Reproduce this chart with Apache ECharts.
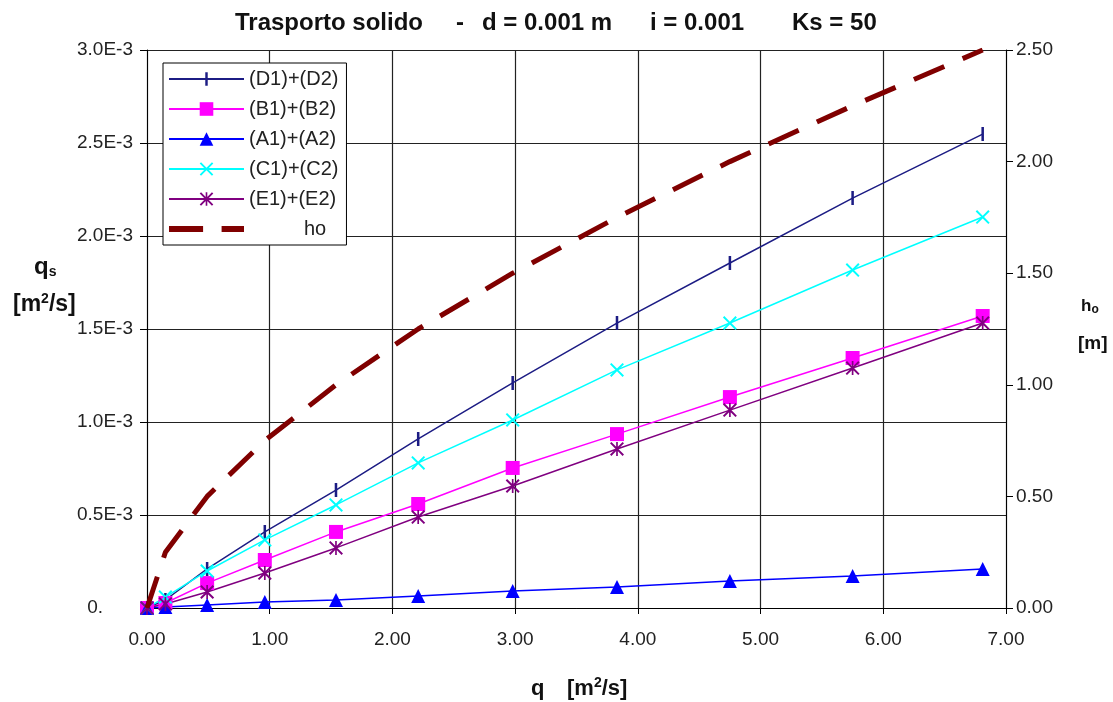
<!DOCTYPE html>
<html>
<head>
<meta charset="utf-8">
<script src="https://cdn.jsdelivr.net/npm/echarts@6/dist/echarts.min.js"></script>
<style>
  html, body { margin: 0; padding: 0; background: #fff; }
  #main { width: 1113px; height: 702px; }
</style>
</head>
<body>
<div id="main"></div>
<script>
// portata q [m2/s]
var qVals = [0, 0.15, 0.49, 0.96, 1.54, 2.21, 2.98, 3.83, 4.75, 5.75, 6.81];
// altezza ho [m]
var hVals = [0, 0.25, 0.50, 0.75, 1.00, 1.25, 1.50, 1.75, 2.00, 2.25, 2.50];
// trasporto solido qs [m2/s] (x 1E-3)
var qsD = [0, 0.043, 0.210, 0.409, 0.634, 0.909, 1.210, 1.532, 1.855, 2.204, 2.548];
var qsB = [0, 0.027, 0.134, 0.258, 0.409, 0.559, 0.753, 0.935, 1.134, 1.344, 1.570];
var qsA = [0, 0.005, 0.016, 0.032, 0.043, 0.065, 0.091, 0.113, 0.145, 0.172, 0.210];
var qsC = [0, 0.059, 0.199, 0.366, 0.554, 0.780, 1.011, 1.280, 1.532, 1.817, 2.102];
var qsE = [0, 0.022, 0.086, 0.188, 0.323, 0.489, 0.656, 0.855, 1.064, 1.290, 1.532];
var names = ['(D1)+(D2)', '(B1)+(B2)', '(A1)+(A2)', '(C1)+(C2)', '(E1)+(E2)', 'ho'];

var FONT = "'Liberation Sans', Arial, sans-serif";
// simboli: punti minimi agli angoli per tenere il riquadro 10x10
var corners = ' M0,0 L0.01,0 L0,0.01 Z M10,10 L9.99,10 L10,9.99 Z';
var barSym = 'path://M4.1,0 L5.9,0 L5.9,10 L4.1,10 Z' + corners;
var xSym = 'path://M0,1 L1,0 L5,4 L9,0 L10,1 L6,5 L10,9 L9,10 L5,6 L1,10 L0,9 L4,5 Z';
var starSym = xSym + ' M4.4,0 L5.6,0 L5.6,10 L4.4,10 Z';
// icona legenda tratteggiata (75 x 17)
var dashIcon = 'path://M0,0 L0.01,0 L0,0.01 Z M0,5.5 L35,5.5 L35,11.5 L0,11.5 Z M54,5.5 L77,5.5 L77,11.5 L54,11.5 Z M77,17 L76.99,17 L77,16.99 Z';

//coppie x,y per le serie
function pairs(ys, k) {
    var out = [];
    for (var i = 0; i < qVals.length; i++) {
        out.push([qVals[i], ys[i] * k]);
    }
    return out;
}

function lineSerie(name, ys, color, symbol, size) {
    return {
        name: name,
        type: 'line',
        data: pairs(ys, 1e-3),
        symbol: symbol,
        symbolSize: size,
        showAllSymbol: true,
        lineStyle: { color: color, width: 1.5 },
        itemStyle: { color: color },
        z: 3
    };
}

function bold(size) {
    return { fontFamily: FONT, fontSize: size, fontWeight: 'bold', color: '#111', fill: '#111' };
}

var myChart = echarts.init(document.getElementById('main'));
var option = {
    animation: false,
    backgroundColor: '#fff',
    textStyle: { fontFamily: FONT },
    title: {
        text: '{a|Trasporto solido}{b|-}{c|d = 0.001 m}{d|i = 0.001}{e|Ks = 50}',
        left: 230,
        top: 6,
        textStyle: {
            fontFamily: FONT, fontSize: 24, fontWeight: 'bold', color: '#111',
            rich: {
                a: { fontSize: 24, fontWeight: 'bold', color: '#111', width: 221 },
                b: { fontSize: 24, fontWeight: 'bold', color: '#111', width: 26 },
                c: { fontSize: 24, fontWeight: 'bold', color: '#111', width: 168 },
                d: { fontSize: 24, fontWeight: 'bold', color: '#111', width: 142 },
                e: { fontSize: 24, fontWeight: 'bold', color: '#111' }
            }
        }
    },
    grid: { left: 147, right: 107, top: 50, bottom: 94 },
    legend: {
        orient: 'vertical',
        left: 163,
        top: 63,
        padding: [6, 8, 6, 5],
        itemWidth: 75,
        itemHeight: 17,
        itemGap: 10,
        backgroundColor: '#fff',
        borderColor: '#000',
        borderWidth: 1,
        textStyle: { fontFamily: FONT, fontSize: 20, color: '#222' },
        data: [names[0], names[1], names[2], names[3], names[4],
            { name: names[5], icon: dashIcon, textStyle: { padding: [0, 0, 0, 55] } }]
    },
    xAxis: {
        type: 'value',
        min: 0, max: 7, interval: 1,
        axisLine: { lineStyle: { color: '#000', width: 1 } },
        axisTick: { show: true, length: 6, lineStyle: { color: '#000' } },
        axisLabel: { margin: 22, fontSize: 19, color: '#222', formatter: function (v) { return v.toFixed(2); } },
        splitLine: { show: true, lineStyle: { color: '#222', width: 1.2 } }
    },
    yAxis: [{
        type: 'value',
        min: 0, max: 0.003, interval: 0.0005,
        axisLine: { show: true, lineStyle: { color: '#000' } },
        axisTick: { show: true, length: 7, lineStyle: { color: '#000' } },
        axisLabel: {
            margin: 14, fontSize: 19, color: '#222',
            formatter: function (v) {
                if (v === 0) return '{z|0.}';
                return (v * 1000).toFixed(1) + 'E-3';
            },
            rich: { z: { fontSize: 19, color: '#222', padding: [0, 30, 0, 0] } }
        },
        splitLine: { show: true, lineStyle: { color: '#222', width: 1.2 } }
    }, {
        type: 'value',
        min: 0, max: 2.5, interval: 0.5,
        position: 'right',
        axisLine: { show: true, lineStyle: { color: '#000' } },
        axisTick: { show: true, length: 7, lineStyle: { color: '#000' } },
        axisLabel: { margin: 10, fontSize: 19, color: '#222', formatter: function (v) { return v.toFixed(2); } },
        splitLine: { show: false }
    }],
    series: [
        lineSerie(names[0], qsD, '#1c1c84', barSym, 14),
        lineSerie(names[1], qsB, '#ff00ff', 'rect', 14),
        lineSerie(names[2], qsA, '#0000ff', 'triangle', 14),
        lineSerie(names[3], qsC, '#00ffff', xSym, 14),
        lineSerie(names[4], qsE, '#800080', starSym, 14),
        {
            name: names[5],
            type: 'line',
            yAxisIndex: 1,
            data: pairs(hVals, 1),
            symbol: 'none',
            lineStyle: { color: '#800000', width: 5, type: [33, 20] },
            itemStyle: { color: '#800000' },
            z: 4
        }
    ],
    graphic: [
        { type: 'text', left: 34, top: 255, style: { text: '{q|q}{s|s}', rich: {
            q: bold(24),
            s: { fontFamily: FONT, fontSize: 14, fontWeight: 'bold', fill: '#111', padding: [10, 0, 0, 0] } } } },
        { type: 'text', left: 13, top: 292, style: { text: '{b|[m}{p|2}{b|/s]}', rich: {
            b: bold(23),
            p: { fontFamily: FONT, fontSize: 14, fontWeight: 'bold', fill: '#111', padding: [0, 0, 12, 0] } } } },
        { type: 'text', left: 1081, top: 298, style: { text: '{h|h}{o|o}', rich: {
            h: bold(17),
            o: { fontFamily: FONT, fontSize: 12, fontWeight: 'bold', fill: '#111', padding: [7, 0, 0, 0] } } } },
        { type: 'text', left: 1078, top: 334, style: { text: '[m]', fontFamily: FONT, fontSize: 19, fontWeight: 'bold', fill: '#111' } },
        { type: 'text', left: 531, top: 676, style: { text: '{q|q}{b|[m}{p|2}{b|/s]}', rich: {
            q: { fontFamily: FONT, fontSize: 22, fontWeight: 'bold', fill: '#111', width: 36 },
            b: bold(22),
            p: { fontFamily: FONT, fontSize: 14, fontWeight: 'bold', fill: '#111', padding: [0, 0, 11, 0] } } } }
    ]
};
myChart.setOption(option);
</script>
</body>
</html>
